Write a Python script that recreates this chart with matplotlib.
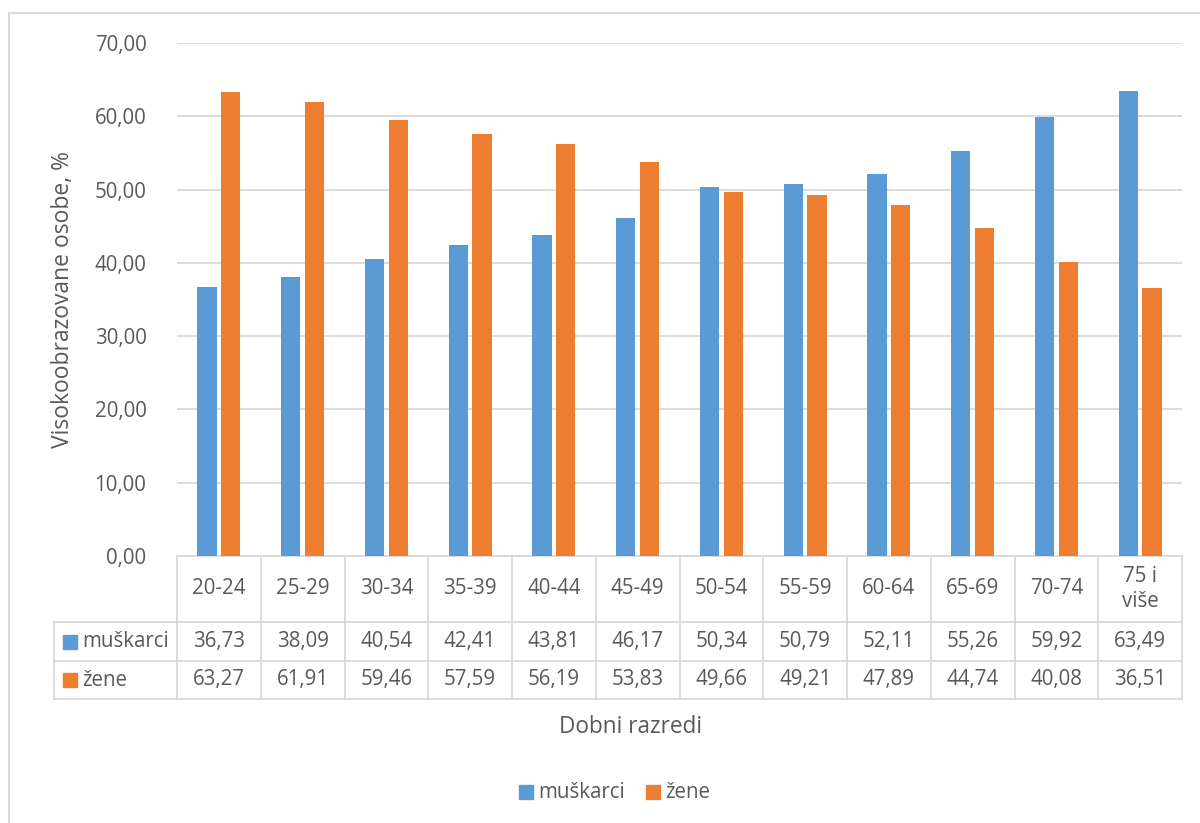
import numpy as np
import matplotlib
matplotlib.use("Agg")
import matplotlib.pyplot as plt
from matplotlib.lines import Line2D
from matplotlib.patches import Rectangle

plt.rcParams['font.family'] = ['Open Sans', 'DejaVu Sans']

# data
categories = ['20-24', '25-29', '30-34', '35-39', '40-44', '45-49',
              '50-54', '55-59', '60-64', '65-69', '70-74', '75 i\nviše']
muskarci = [36.73, 38.09, 40.54, 42.41, 43.81, 46.17,
            50.34, 50.79, 52.11, 55.26, 59.92, 63.49]
zene = [63.27, 61.91, 59.46, 57.59, 56.19, 53.83,
        49.66, 49.21, 47.89, 44.74, 40.08, 36.51]
series_names = ['muškarci', 'žene']
yticks = [0, 10, 20, 30, 40, 50, 60, 70]

BLUE = '#5B9BD5'
ORANGE = '#ED7D31'
TXT = '#595959'
GRID = '#D9D9D9'
W, H = 1200, 823
FS = 14.8

def fx(px):
    return px / W

def fy(py):
    return 1 - py / H

fig = plt.figure(figsize=(12, 8.23), dpi=100)

# chart frame (left and top edges visible)
fig.add_artist(Line2D([fx(9), fx(9)], [fy(13), 0], color=GRID, lw=1.5))
fig.add_artist(Line2D([fx(9), 1], [fy(13), fy(13)], color=GRID, lw=1.5))

x0, x1, ytop, ybot = 177, 1182, 43, 556
ax = fig.add_axes([fx(x0), fy(ybot), fx(x1 - x0), (ybot - ytop) / H])

x = np.arange(len(categories))
bw = 0.23
ax.bar(x - 0.143, muskarci, bw, color=BLUE, zorder=3)
ax.bar(x + 0.143, zene, bw, color=ORANGE, zorder=3)

ax.set_xlim(-0.5, len(categories) - 0.5)
ax.set_ylim(0, 70)
ax.set_yticks(yticks)
ax.set_yticklabels([f'{v:.2f}'.replace('.', ',') for v in yticks],
                   color=TXT, fontsize=FS)
ax.tick_params(axis='y', length=0, pad=22)
ax.set_xticks([])
ax.yaxis.grid(True, color=GRID, lw=1.3)
for s in ['top', 'right', 'left', 'bottom']:
    ax.spines[s].set_visible(False)

ax.set_ylabel('Visokoobrazovane osobe, %', color=TXT, fontsize=16.5, labelpad=14)

# data table below the axes
tr = ax.get_xaxis_transform()
def ay(py):
    return (ybot - py) / (ybot - ytop)

row_y = [556, 622, 661, 699]
lc = dict(color=GRID, lw=1.3, clip_on=False, transform=tr)
for k in range(len(categories) + 1):
    ax.plot([k - 0.5, k - 0.5], [ay(row_y[0]), ay(row_y[-1])], **lc)
xl = -0.5 - (x0 - 54) / ((x1 - x0) / len(categories))
ax.plot([-0.5, len(categories) - 0.5], [ay(556), ay(556)], **lc)
for py in row_y[1:]:
    ax.plot([xl, len(categories) - 0.5], [ay(py), ay(py)], **lc)
ax.plot([xl, xl], [ay(622), ay(699)], **lc)

for i, c in enumerate(categories):
    ax.text(i, ay(589), c, ha='center', va='center', color=TXT,
            fontsize=FS, transform=tr, linespacing=1.3)
    ax.text(i, ay(641.5), f'{muskarci[i]:.2f}'.replace('.', ','), ha='center',
            va='center', color=TXT, fontsize=FS, transform=tr)
    ax.text(i, ay(680), f'{zene[i]:.2f}'.replace('.', ','), ha='center',
            va='center', color=TXT, fontsize=FS, transform=tr)

for name, col, py in [(series_names[0], BLUE, 641.5), (series_names[1], ORANGE, 680)]:
    fig.add_artist(Rectangle((fx(63), fy(py + 7)), fx(14), 14 / H, color=col))
    fig.text(fx(82), fy(py), name, ha='left', va='center', color=TXT, fontsize=FS)

fig.text(fx(631), fy(727), 'Dobni razredi', ha='center', va='center',
         color=TXT, fontsize=16.3)

# legend
fig.add_artist(Rectangle((fx(519), fy(799)), fx(14), 14 / H, color=BLUE))
fig.text(fx(538), fy(792), series_names[0], ha='left', va='center', color=TXT, fontsize=FS)
fig.add_artist(Rectangle((fx(646), fy(799)), fx(14), 14 / H, color=ORANGE))
fig.text(fx(665), fy(792), series_names[1], ha='left', va='center', color=TXT, fontsize=FS)

fig.savefig('out.png', dpi=100)
